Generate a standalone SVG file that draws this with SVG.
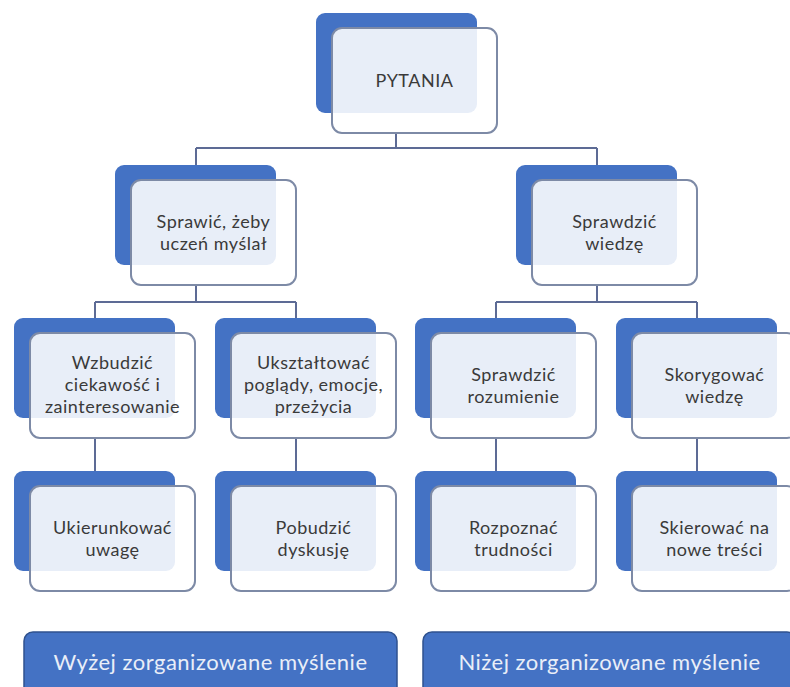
<svg xmlns="http://www.w3.org/2000/svg" width="790" height="687" viewBox="0 0 790 687">
<style>
.back{fill:#4472c4;}
.front{fill:#ffffff;fill-opacity:0.88;stroke:#7d8aa6;stroke-width:2;}
.t{font-family:Lato,"Open Sans",sans-serif;font-size:18px;letter-spacing:0.5px;fill:#3a3a3a;text-anchor:middle;}
.conn{fill:none;stroke:#5d6b95;stroke-width:2;}
.band{fill:#4472c4;stroke:#2f528f;stroke-width:1.5;}
.bt{font-family:Lato,"Open Sans",sans-serif;font-size:22px;letter-spacing:0.5px;fill:#e9eef8;text-anchor:middle;}
</style>
<rect width="790" height="687" fill="#ffffff"/>
<g id="connectors">
<path class="conn" d="M396 133V148M196 148H597M196 148V165M597 148V165"/>
<path class="conn" d="M196 285V302M95 302H296M95 302V318M296 302V318"/>
<path class="conn" d="M597 285V302M496 302H697M496 302V318M697 302V318"/>
<path class="conn" d="M95 438V471M296 438V471M496 438V471M697 438V471"/>
</g>
<g id="n-pytania">
<rect class="back" x="316" y="13" width="161" height="100" rx="9"/>
<rect class="front" x="332" y="28" width="165" height="105" rx="10"/>
<text class="t" x="414.5" y="87">PYTANIA</text>
</g>
<g id="n-sprawic">
<rect class="back" x="115" y="165" width="161" height="100" rx="9"/>
<rect class="front" x="131" y="180" width="165" height="105" rx="10"/>
<text class="t" x="213.5" y="228">Sprawić, żeby</text>
<text class="t" x="213.5" y="250">uczeń myślał</text>
</g>
<g id="n-sprawdzic-wiedze">
<rect class="back" x="516" y="165" width="161" height="100" rx="9"/>
<rect class="front" x="532" y="180" width="165" height="105" rx="10"/>
<text class="t" x="614.5" y="228">Sprawdzić</text>
<text class="t" x="614.5" y="250">wiedzę</text>
</g>
<g id="n-wzbudzic">
<rect class="back" x="14" y="318" width="161" height="100" rx="9"/>
<rect class="front" x="30" y="333" width="165" height="105" rx="10"/>
<text class="t" x="112.5" y="369">Wzbudzić</text>
<text class="t" x="112.5" y="391">ciekawość i</text>
<text class="t" x="112.5" y="413">zainteresowanie</text>
</g>
<g id="n-uksztaltowac">
<rect class="back" x="215" y="318" width="161" height="100" rx="9"/>
<rect class="front" x="231" y="333" width="165" height="105" rx="10"/>
<text class="t" x="313.5" y="369">Ukształtować</text>
<text class="t" x="313.5" y="391">poglądy, emocje,</text>
<text class="t" x="313.5" y="413">przeżycia</text>
</g>
<g id="n-sprawdzic-rozumienie">
<rect class="back" x="415" y="318" width="161" height="100" rx="9"/>
<rect class="front" x="431" y="333" width="165" height="105" rx="10"/>
<text class="t" x="513.5" y="381">Sprawdzić</text>
<text class="t" x="513.5" y="403">rozumienie</text>
</g>
<g id="n-skorygowac">
<rect class="back" x="616" y="318" width="161" height="100" rx="9"/>
<rect class="front" x="632" y="333" width="165" height="105" rx="10"/>
<text class="t" x="714.5" y="381">Skorygować</text>
<text class="t" x="714.5" y="403">wiedzę</text>
</g>
<g id="n-ukierunkowac">
<rect class="back" x="14" y="471" width="161" height="100" rx="9"/>
<rect class="front" x="30" y="486" width="165" height="105" rx="10"/>
<text class="t" x="112.5" y="534">Ukierunkować</text>
<text class="t" x="112.5" y="556">uwagę</text>
</g>
<g id="n-pobudzic">
<rect class="back" x="215" y="471" width="161" height="100" rx="9"/>
<rect class="front" x="231" y="486" width="165" height="105" rx="10"/>
<text class="t" x="313.5" y="534">Pobudzić</text>
<text class="t" x="313.5" y="556">dyskusję</text>
</g>
<g id="n-rozpoznac">
<rect class="back" x="415" y="471" width="161" height="100" rx="9"/>
<rect class="front" x="431" y="486" width="165" height="105" rx="10"/>
<text class="t" x="513.5" y="534">Rozpoznać</text>
<text class="t" x="513.5" y="556">trudności</text>
</g>
<g id="n-skierowac">
<rect class="back" x="616" y="471" width="161" height="100" rx="9"/>
<rect class="front" x="632" y="486" width="165" height="105" rx="10"/>
<text class="t" x="714.5" y="534">Skierować na</text>
<text class="t" x="714.5" y="556">nowe treści</text>
</g>
<g id="band-wyzej">
<rect class="band" x="24" y="632" width="373" height="70" rx="9"/>
<text class="bt" x="210.5" y="670">Wyżej zorganizowane myślenie</text>
</g>
<g id="band-nizej">
<rect class="band" x="423" y="632" width="373" height="70" rx="9"/>
<text class="bt" x="609.5" y="670">Niżej zorganizowane myślenie</text>
</g>
</svg>
